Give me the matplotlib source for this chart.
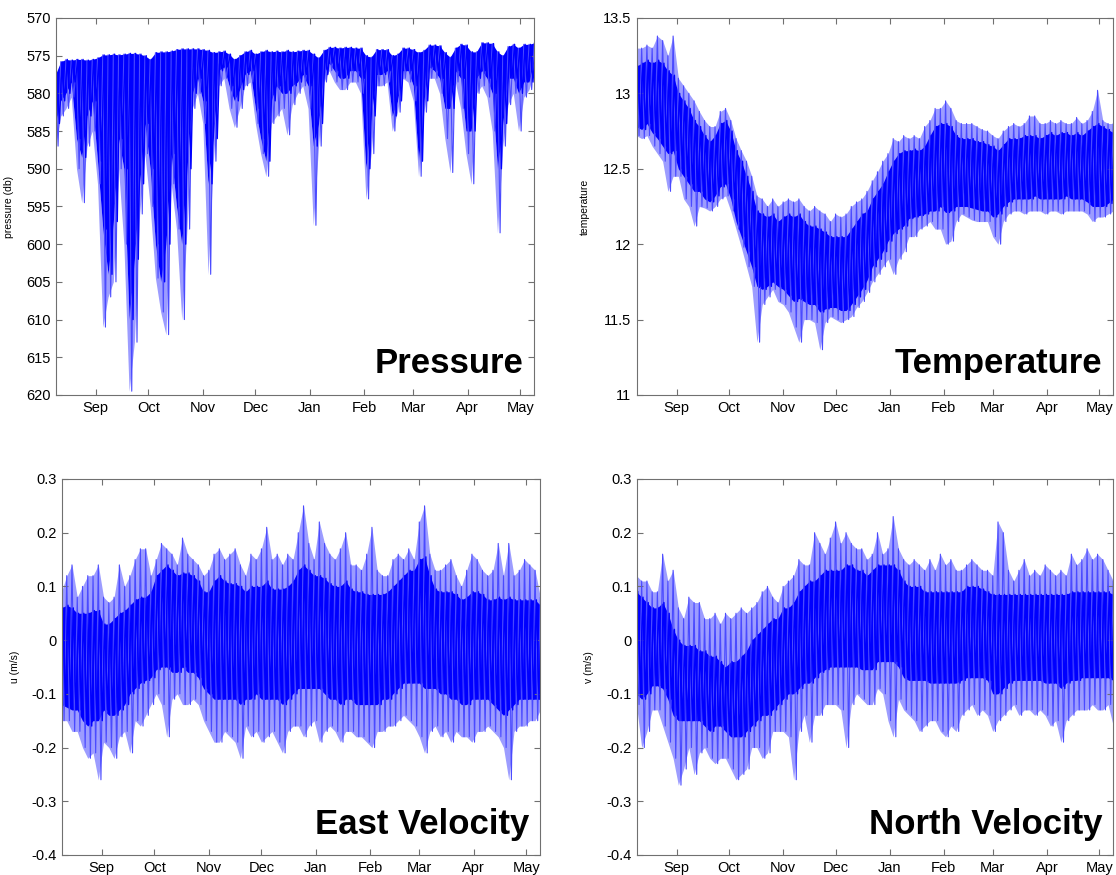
import matplotlib
matplotlib.use('Agg')
import numpy as np
import pandas as pd
import matplotlib.pyplot as plt
import matplotlib.dates as mdates
from matplotlib.ticker import FuncFormatter

plt.rcParams['font.family'] = ['Liberation Sans', 'DejaVu Sans']
plt.rcParams['axes.unicode_minus'] = False

# sample dates, every 3 days, envelope values
dates = pd.date_range('2009-08-09', periods=92, freq='3D')

# pressure (db): top of band, bottom of dense core, bottom of spikes
p_top = [577.5, 575.8, 575.5, 575.6, 575.5, 575.5, 575.6, 575.5, 575.3, 574.9,
         574.9, 574.8, 574.9, 574.8, 574.7, 574.7, 574.8, 575.0, 575.5, 574.6,
         574.5, 574.5, 574.4, 574.2, 574.1, 574.1, 574.1, 574.1, 574.2, 574.3,
         574.6, 574.5, 574.4, 574.8, 575.5, 575.0, 574.5, 574.3, 574.8, 574.5,
         574.3, 574.5, 574.4, 574.5, 574.3, 574.5, 574.4, 574.3, 574.3, 574.8,
         575.3, 574.3, 573.9, 573.9, 574.0, 573.9, 573.9, 574.0, 574.0, 575.0,
         575.2, 574.2, 574.2, 574.2, 575.0, 574.8, 574.0, 574.0, 574.2, 574.6,
         574.3, 573.6, 573.6, 573.7, 574.6, 575.2, 574.0, 573.5, 573.6, 574.5,
         574.5, 573.3, 573.3, 573.4, 574.5, 575.0, 573.8, 573.5, 574.0, 573.5,
         573.5, 573.3]
p_core = [584.0, 581.0, 580.0, 578.5, 586.0, 588.5, 583.0, 581.0, 589.0, 598.0,
          604.0, 597.0, 586.0, 590.0, 610.0, 602.0, 592.0, 584.0, 590.0, 600.0,
          605.0, 600.0, 588.0, 595.0, 600.0, 590.0, 580.0, 578.0, 581.0, 592.0,
          586.0, 577.0, 576.5, 579.0, 581.0, 579.5, 577.5, 577.0, 582.0, 586.0,
          589.0, 581.0, 579.0, 580.0, 580.0, 579.0, 578.5, 577.5, 579.0, 587.0,
          584.0, 577.5, 576.0, 577.0, 578.0, 578.0, 577.0, 577.0, 578.0, 590.0,
          583.0, 577.5, 577.5, 577.0, 583.0, 581.0, 577.0, 577.0, 579.0, 589.0,
          581.0, 576.5, 577.0, 578.0, 582.0, 582.0, 577.0, 578.0, 585.0, 585.0,
          578.0, 577.0, 578.0, 580.0, 590.0, 584.0, 578.0, 578.0, 580.0, 578.5,
          578.5, 575.5]
p_spike = [587.0, 583.0, 582.0, 580.5, 590.0, 594.5, 587.0, 585.0, 592.0, 611.0,
           607.0, 605.0, 590.0, 600.0, 619.5, 613.0, 596.0, 588.0, 595.0, 604.5,
           609.0, 612.0, 592.0, 598.0, 610.0, 598.0, 582.0, 580.0, 584.0, 604.0,
           589.0, 579.0, 578.0, 582.0, 584.5, 582.0, 579.0, 578.5, 584.0, 588.0,
           591.0, 584.0, 583.0, 582.0, 585.5, 581.5, 580.0, 579.0, 582.0, 597.5,
           587.0, 578.5, 577.0, 578.5, 579.5, 579.5, 578.5, 578.5, 580.0, 594.0,
           588.0, 579.0, 579.0, 578.5, 585.0, 582.5, 578.0, 578.5, 581.0, 591.0,
           582.5, 578.0, 578.0, 580.0, 586.0, 590.5, 578.5, 582.0, 588.0, 592.0,
           580.0, 579.0, 580.5, 585.0, 598.5, 587.0, 581.5, 580.0, 585.0, 580.5,
           579.5, 577.0]

# temperature: outer high, core high, core low, outer low
t_hi = [13.30, 13.30, 13.32, 13.30, 13.38, 13.35, 13.25, 13.38, 13.10, 13.05,
        13.00, 12.95, 12.88, 12.82, 12.78, 12.78, 12.88, 12.90, 12.82, 12.70,
        12.62, 12.55, 12.45, 12.32, 12.30, 12.25, 12.30, 12.25, 12.28, 12.30,
        12.28, 12.30, 12.25, 12.22, 12.25, 12.22, 12.20, 12.15, 12.20, 12.18,
        12.20, 12.25, 12.28, 12.30, 12.35, 12.42, 12.48, 12.55, 12.60, 12.70,
        12.68, 12.72, 12.70, 12.72, 12.70, 12.78, 12.82, 12.90, 12.90, 12.95,
        12.90, 12.82, 12.80, 12.80, 12.80, 12.78, 12.76, 12.75, 12.72, 12.70,
        12.75, 12.78, 12.80, 12.78, 12.80, 12.85, 12.85, 12.80, 12.80, 12.82,
        12.80, 12.82, 12.80, 12.80, 12.84, 12.80, 12.82, 12.88, 13.02, 12.82,
        12.80, 12.80]
t_chi = [13.18, 13.20, 13.22, 13.20, 13.22, 13.20, 13.15, 13.12, 13.00, 12.95,
         12.90, 12.82, 12.78, 12.72, 12.68, 12.72, 12.80, 12.82, 12.75, 12.62,
         12.55, 12.45, 12.35, 12.22, 12.20, 12.18, 12.20, 12.15, 12.18, 12.20,
         12.18, 12.20, 12.15, 12.12, 12.12, 12.10, 12.08, 12.05, 12.05, 12.05,
         12.05, 12.10, 12.15, 12.20, 12.22, 12.30, 12.35, 12.40, 12.48, 12.55,
         12.60, 12.62, 12.62, 12.63, 12.62, 12.65, 12.72, 12.78, 12.80, 12.80,
         12.78, 12.72, 12.70, 12.70, 12.70, 12.68, 12.68, 12.66, 12.65, 12.62,
         12.66, 12.70, 12.70, 12.70, 12.72, 12.72, 12.72, 12.70, 12.72, 12.74,
         12.72, 12.74, 12.74, 12.72, 12.74, 12.72, 12.75, 12.78, 12.80, 12.78,
         12.76, 12.74]
t_clo = [12.78, 12.76, 12.80, 12.74, 12.70, 12.65, 12.60, 12.62, 12.50, 12.45,
         12.40, 12.35, 12.35, 12.30, 12.28, 12.32, 12.38, 12.40, 12.30, 12.15,
         12.05, 11.95, 11.85, 11.72, 11.70, 11.72, 11.75, 11.72, 11.70, 11.66,
         11.62, 11.64, 11.62, 11.60, 11.60, 11.55, 11.57, 11.58, 11.58, 11.56,
         11.56, 11.60, 11.65, 11.70, 11.76, 11.85, 11.90, 11.95, 12.02, 12.07,
         12.10, 12.12, 12.17, 12.18, 12.19, 12.20, 12.22, 12.22, 12.25, 12.21,
         12.22, 12.25, 12.25, 12.25, 12.24, 12.23, 12.22, 12.22, 12.18, 12.20,
         12.25, 12.28, 12.30, 12.30, 12.30, 12.30, 12.32, 12.30, 12.30, 12.30,
         12.30, 12.30, 12.32, 12.30, 12.30, 12.30, 12.28, 12.25, 12.25, 12.25,
         12.27, 12.30]
t_lo = [12.72, 12.70, 12.72, 12.65, 12.60, 12.55, 12.35, 12.45, 12.45, 12.30,
        12.25, 12.12, 12.25, 12.24, 12.22, 12.25, 12.30, 12.32, 12.22, 12.10,
        11.98, 11.85, 11.72, 11.35, 11.60, 11.65, 11.70, 11.62, 11.60, 11.55,
        11.45, 11.35, 11.50, 11.50, 11.48, 11.30, 11.48, 11.52, 11.50, 11.48,
        11.50, 11.52, 11.58, 11.62, 11.68, 11.75, 11.80, 11.85, 11.90, 11.80,
        11.90, 11.95, 12.05, 12.05, 12.10, 12.12, 12.15, 12.10, 12.10, 12.00,
        12.02, 12.15, 12.20, 12.18, 12.16, 12.15, 12.15, 12.15, 12.05, 12.00,
        12.15, 12.20, 12.22, 12.22, 12.20, 12.22, 12.22, 12.22, 12.20, 12.22,
        12.22, 12.20, 12.22, 12.22, 12.22, 12.22, 12.20, 12.15, 12.18, 12.18,
        12.20, 12.22]

# east velocity u (m/s)
u_hi = [0.09, 0.12, 0.14, 0.08, 0.10, 0.12, 0.12, 0.14, 0.08, 0.07,
        0.08, 0.14, 0.10, 0.12, 0.15, 0.17, 0.17, 0.12, 0.15, 0.18,
        0.17, 0.16, 0.14, 0.19, 0.16, 0.15, 0.14, 0.12, 0.13, 0.16,
        0.17, 0.15, 0.16, 0.17, 0.14, 0.12, 0.16, 0.15, 0.17, 0.21,
        0.15, 0.16, 0.14, 0.16, 0.15, 0.20, 0.25, 0.18, 0.15, 0.22,
        0.18, 0.16, 0.15, 0.17, 0.20, 0.14, 0.14, 0.13, 0.16, 0.21,
        0.13, 0.12, 0.12, 0.15, 0.16, 0.15, 0.17, 0.15, 0.22, 0.25,
        0.16, 0.13, 0.13, 0.14, 0.15, 0.12, 0.10, 0.13, 0.16, 0.15,
        0.13, 0.12, 0.13, 0.18, 0.12, 0.18, 0.12, 0.13, 0.15, 0.14,
        0.13, 0.08]
u_chi = [0.060, 0.065, 0.060, 0.050, 0.050, 0.050, 0.055, 0.055, 0.030, 0.030,
         0.040, 0.050, 0.055, 0.065, 0.075, 0.080, 0.080, 0.090, 0.120, 0.130,
         0.140, 0.130, 0.120, 0.125, 0.125, 0.120, 0.110, 0.090, 0.090, 0.110,
         0.120, 0.110, 0.105, 0.105, 0.100, 0.090, 0.100, 0.100, 0.100, 0.110,
         0.095, 0.095, 0.095, 0.100, 0.110, 0.130, 0.140, 0.130, 0.120, 0.120,
         0.115, 0.105, 0.100, 0.100, 0.110, 0.095, 0.090, 0.090, 0.085, 0.085,
         0.085, 0.085, 0.090, 0.100, 0.110, 0.120, 0.130, 0.130, 0.150, 0.155,
         0.120, 0.095, 0.090, 0.090, 0.090, 0.085, 0.075, 0.080, 0.090, 0.090,
         0.085, 0.075, 0.075, 0.080, 0.075, 0.080, 0.075, 0.075, 0.075, 0.075,
         0.075, 0.065]
u_clo = [-0.120, -0.125, -0.130, -0.130, -0.150, -0.160, -0.150, -0.150, -0.130, -0.140,
         -0.140, -0.130, -0.120, -0.100, -0.090, -0.080, -0.075, -0.070, -0.055, -0.050,
         -0.050, -0.060, -0.060, -0.050, -0.060, -0.060, -0.070, -0.090, -0.100, -0.110,
         -0.110, -0.110, -0.110, -0.110, -0.120, -0.110, -0.110, -0.100, -0.110, -0.110,
         -0.110, -0.110, -0.120, -0.110, -0.100, -0.090, -0.090, -0.090, -0.090, -0.090,
         -0.100, -0.110, -0.110, -0.120, -0.110, -0.110, -0.120, -0.120, -0.120, -0.120,
         -0.120, -0.110, -0.110, -0.100, -0.090, -0.080, -0.080, -0.080, -0.080, -0.090,
         -0.090, -0.090, -0.100, -0.100, -0.110, -0.110, -0.120, -0.120, -0.110, -0.110,
         -0.110, -0.110, -0.120, -0.130, -0.140, -0.130, -0.120, -0.110, -0.110, -0.110,
         -0.110, -0.110]
u_lo = [-0.15, -0.15, -0.17, -0.17, -0.20, -0.22, -0.21, -0.26, -0.19, -0.20,
        -0.22, -0.18, -0.17, -0.21, -0.15, -0.16, -0.14, -0.12, -0.10, -0.12,
        -0.18, -0.11, -0.10, -0.12, -0.12, -0.11, -0.12, -0.15, -0.17, -0.19,
        -0.19, -0.17, -0.18, -0.19, -0.22, -0.16, -0.18, -0.17, -0.19, -0.18,
        -0.17, -0.19, -0.21, -0.17, -0.16, -0.16, -0.18, -0.16, -0.15, -0.19,
        -0.17, -0.16, -0.17, -0.19, -0.17, -0.17, -0.18, -0.18, -0.19, -0.20,
        -0.17, -0.17, -0.16, -0.16, -0.15, -0.14, -0.15, -0.16, -0.18, -0.21,
        -0.17, -0.16, -0.18, -0.17, -0.19, -0.17, -0.18, -0.18, -0.19, -0.17,
        -0.17, -0.16, -0.17, -0.18, -0.20, -0.26, -0.17, -0.16, -0.16, -0.15,
        -0.15, -0.13]

# north velocity v (m/s)
v_hi = [0.12, 0.11, 0.11, 0.09, 0.09, 0.16, 0.11, 0.13, 0.06, 0.04,
        0.08, 0.07, 0.07, 0.04, 0.04, 0.05, 0.03, 0.05, 0.04, 0.05,
        0.06, 0.05, 0.06, 0.07, 0.09, 0.10, 0.08, 0.07, 0.10, 0.11,
        0.12, 0.15, 0.14, 0.14, 0.20, 0.18, 0.16, 0.19, 0.22, 0.18,
        0.20, 0.18, 0.17, 0.17, 0.15, 0.16, 0.20, 0.16, 0.17, 0.23,
        0.17, 0.15, 0.14, 0.15, 0.14, 0.13, 0.15, 0.13, 0.16, 0.14,
        0.15, 0.13, 0.13, 0.14, 0.15, 0.14, 0.13, 0.13, 0.12, 0.22,
        0.20, 0.13, 0.11, 0.13, 0.15, 0.12, 0.13, 0.12, 0.14, 0.13,
        0.12, 0.13, 0.12, 0.16, 0.14, 0.15, 0.17, 0.15, 0.16, 0.15,
        0.13, 0.11]
v_chi = [0.090, 0.080, 0.070, 0.060, 0.060, 0.070, 0.050, 0.020, 0.000, -0.010,
         -0.010, -0.010, -0.020, -0.020, -0.030, -0.030, -0.040, -0.050, -0.040, -0.040,
         -0.030, -0.020, 0.000, 0.010, 0.020, 0.030, 0.040, 0.040, 0.060, 0.060,
         0.070, 0.090, 0.100, 0.110, 0.110, 0.120, 0.130, 0.130, 0.130, 0.130,
         0.140, 0.140, 0.130, 0.130, 0.120, 0.130, 0.140, 0.140, 0.140, 0.140,
         0.130, 0.110, 0.100, 0.100, 0.100, 0.090, 0.090, 0.090, 0.090, 0.090,
         0.090, 0.090, 0.090, 0.100, 0.100, 0.100, 0.095, 0.090, 0.085, 0.085,
         0.085, 0.085, 0.085, 0.085, 0.085, 0.085, 0.085, 0.085, 0.085, 0.085,
         0.085, 0.085, 0.085, 0.090, 0.090, 0.090, 0.090, 0.090, 0.090, 0.090,
         0.090, 0.085]
v_clo = [-0.100, -0.110, -0.100, -0.085, -0.085, -0.090, -0.110, -0.140, -0.150, -0.150,
         -0.150, -0.150, -0.150, -0.160, -0.170, -0.160, -0.160, -0.170, -0.180, -0.180,
         -0.180, -0.170, -0.160, -0.150, -0.140, -0.140, -0.130, -0.120, -0.110, -0.100,
         -0.100, -0.090, -0.080, -0.080, -0.070, -0.060, -0.055, -0.050, -0.050, -0.050,
         -0.050, -0.050, -0.050, -0.055, -0.055, -0.055, -0.040, -0.040, -0.040, -0.040,
         -0.050, -0.070, -0.075, -0.075, -0.075, -0.075, -0.080, -0.080, -0.080, -0.080,
         -0.080, -0.080, -0.075, -0.070, -0.070, -0.070, -0.070, -0.075, -0.100, -0.100,
         -0.090, -0.080, -0.075, -0.075, -0.075, -0.075, -0.075, -0.075, -0.080, -0.080,
         -0.080, -0.090, -0.080, -0.075, -0.075, -0.070, -0.070, -0.070, -0.070, -0.070,
         -0.070, -0.075]
v_lo = [-0.12, -0.20, -0.17, -0.13, -0.13, -0.16, -0.19, -0.22, -0.27, -0.24,
        -0.20, -0.25, -0.21, -0.20, -0.22, -0.23, -0.22, -0.22, -0.24, -0.26,
        -0.25, -0.24, -0.20, -0.20, -0.22, -0.21, -0.17, -0.17, -0.17, -0.18,
        -0.26, -0.17, -0.14, -0.19, -0.14, -0.14, -0.12, -0.12, -0.12, -0.13,
        -0.20, -0.12, -0.10, -0.11, -0.12, -0.12, -0.09, -0.10, -0.15, -0.18,
        -0.11, -0.13, -0.14, -0.15, -0.17, -0.16, -0.15, -0.15, -0.17, -0.18,
        -0.16, -0.17, -0.14, -0.13, -0.12, -0.14, -0.13, -0.14, -0.17, -0.15,
        -0.14, -0.13, -0.12, -0.14, -0.13, -0.13, -0.14, -0.13, -0.14, -0.16,
        -0.15, -0.19, -0.15, -0.14, -0.13, -0.13, -0.13, -0.12, -0.13, -0.13,
        -0.12, -0.16]

CORE = '#0000ff'
FRINGE = '#9c9cff'
SPIKE = '#4a4aff'
GRAY = '#707070'

x0 = pd.Timestamp('2009-08-09 08:00')
x1 = pd.Timestamp('2010-05-08 20:00')


def gfmt(v, pos):
    return '{:g}'.format(round(v, 3) + 0.0)


def zigzag(a, b, shift_a, shift_b):
    # one stroke up to a, one down to b for every sample
    xs = np.empty(2 * len(dates), dtype='datetime64[ns]')
    ys = np.empty(2 * len(dates))
    xs[0::2] = (dates + pd.Timedelta(hours=shift_a)).values
    xs[1::2] = (dates + pd.Timedelta(hours=shift_b)).values
    ys[0::2] = a
    ys[1::2] = b
    return xs, ys


def draw_band(ax, hi, chi, clo, lo):
    ax.fill_between(dates, lo, hi, color=FRINGE, lw=0)
    xs, ys = zigzag(hi, lo, 0, 36)
    ax.plot(xs, ys, color=SPIKE, lw=0.8)
    ax.fill_between(dates, clo, chi, color=CORE, lw=0)
    xs, ys = zigzag(chi, clo, 18, 54)
    ax.plot(xs, ys, color=CORE, lw=1.0)


def style(ax, ylim, yticks, ylabel, title, lab_x):
    ax.set_xlim(x0, x1)
    ax.set_ylim(*ylim)
    ax.set_yticks(yticks)
    ax.yaxis.set_major_formatter(FuncFormatter(gfmt))
    ax.xaxis.set_major_locator(mdates.MonthLocator())
    ax.xaxis.set_major_formatter(mdates.DateFormatter('%b'))
    ax.tick_params(direction='in', top=True, right=True, length=4, width=0.8,
                   color=GRAY, labelsize=10.5, pad=4)
    for s in ax.spines.values():
        s.set_color(GRAY)
        s.set_linewidth(0.8)
    ax.set_ylabel(ylabel, fontsize=7.5)
    ax.yaxis.set_label_coords(lab_x, 0.5)
    ax.text(0.978, 0.057, title, transform=ax.transAxes, ha='right',
            va='baseline', fontsize=25, fontweight='bold')


fig = plt.figure(figsize=(11.16, 8.75), dpi=100)
ax1 = fig.add_axes([0.0502, 0.5486, 0.4283, 0.4309])
ax2 = fig.add_axes([0.5708, 0.5486, 0.4265, 0.4309])
ax3 = fig.add_axes([0.0556, 0.0229, 0.4283, 0.4297])
ax4 = fig.add_axes([0.5708, 0.0229, 0.4265, 0.4297])

# pressure: dense core hangs from the top, spikes reach further down
ax1.fill_between(dates, p_core, p_spike, color=FRINGE, lw=0)
xs, ys = zigzag(p_top, p_spike, 0, 36)
ax1.plot(xs, ys, color=SPIKE, lw=0.8)
ax1.fill_between(dates, p_top, p_core, color=CORE, lw=0)
xs, ys = zigzag(p_top, p_core, 18, 54)
ax1.plot(xs, ys, color=CORE, lw=1.0)
style(ax1, (620, 570), np.arange(570, 621, 5), 'pressure (db)', 'Pressure', -0.088)

draw_band(ax2, t_hi, t_chi, t_clo, t_lo)
style(ax2, (11, 13.5), np.arange(11, 13.51, 0.5), 'temperature', 'Temperature', -0.099)

draw_band(ax3, u_hi, u_chi, u_clo, u_lo)
style(ax3, (-0.4, 0.3), np.arange(-0.4, 0.31, 0.1), 'u (m/s)', 'East Velocity', -0.088)

draw_band(ax4, v_hi, v_chi, v_clo, v_lo)
style(ax4, (-0.4, 0.3), np.arange(-0.4, 0.31, 0.1), 'v (m/s)', 'North Velocity', -0.09)

fig.savefig('out.png', dpi=100)
